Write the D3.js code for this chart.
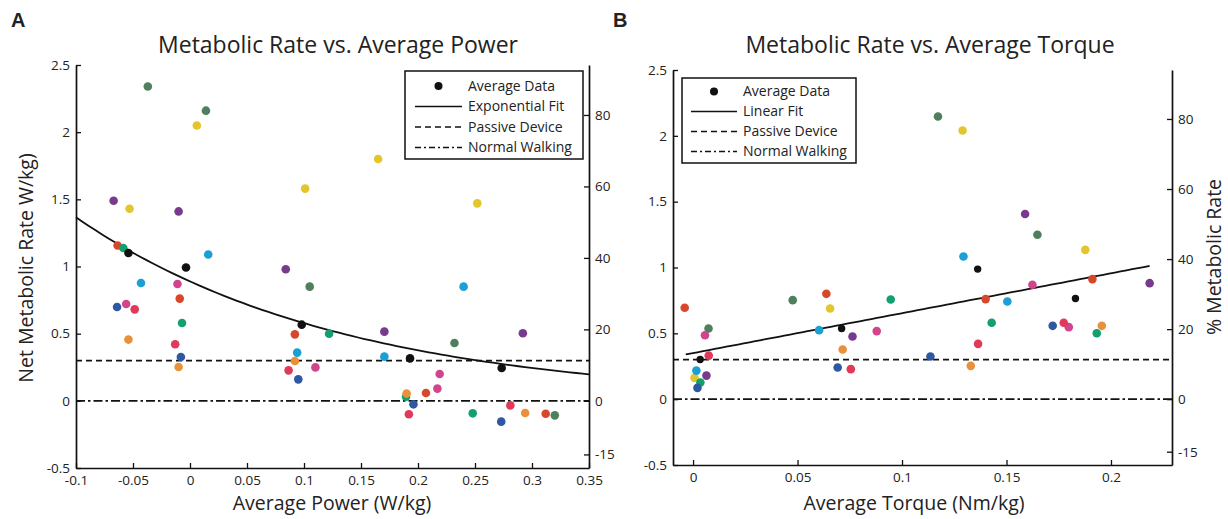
<!DOCTYPE html>
<html>
<head>
<meta charset="utf-8">
<title>Metabolic Rate</title>
<script src="https://d3js.org/d3.v7.min.js"></script>
<style>
body { margin: 0; background: #fff; }
svg text { font-family: "Open Sans", sans-serif; fill: #222; }
</style>
</head>
<body>
<svg id="chart" width="1228" height="519"></svg>
<script>
// subject order used by both panels
var subjects = ["darkgreen", "yellow", "purple", "red", "teal", "cyan", "blue", "magenta", "crimson", "orange", "average"];
var subjectColor = {
  darkgreen: "#4f7f5c", yellow: "#e3c62e", purple: "#783a8c", red: "#d8462c",
  teal: "#11a06e", cyan: "#1aa0d4", blue: "#2f58a2", magenta: "#d2458d",
  crimson: "#e0395a", orange: "#e8913a", average: "#111111"
};

// panel A: average power (W/kg) vs net metabolic rate (W/kg)
var powerData = {
  darkgreen: [[-0.037, 2.34], [0.014, 2.16], [0.105, 0.85], [0.232, 0.43], [0.320, -0.108]],
  yellow:    [[0.006, 2.05], [0.101, 1.58], [0.165, 1.80], [0.252, 1.47], [-0.053, 1.43]],
  purple:    [[-0.067, 1.49], [-0.010, 1.41], [0.084, 0.98], [0.1705, 0.515], [0.292, 0.503]],
  red:       [[-0.0635, 1.156], [-0.009, 0.761], [0.092, 0.495], [0.207, 0.058], [0.312, -0.096]],
  teal:      [[-0.0585, 1.138], [-0.007, 0.579], [0.122, 0.500], [0.1895, 0.031], [0.248, -0.093]],
  cyan:      [[0.016, 1.089], [-0.043, 0.877], [0.094, 0.359], [0.240, 0.850], [0.1705, 0.329]],
  blue:      [[-0.064, 0.699], [-0.008, 0.326], [0.095, 0.160], [0.196, -0.026], [0.273, -0.155]],
  magenta:   [[-0.056, 0.721], [-0.011, 0.870], [0.110, 0.249], [0.219, 0.200], [0.217, 0.091]],
  crimson:   [[-0.0485, 0.681], [-0.013, 0.421], [0.0865, 0.227], [0.192, -0.100], [0.281, -0.034]],
  orange:    [[-0.054, 0.456], [-0.010, 0.252], [0.092, 0.296], [0.190, 0.054], [0.294, -0.091]],
  average:   [[-0.054, 1.10], [-0.0035, 0.992], [0.098, 0.567], [0.193, 0.316], [0.2734, 0.244]]
};

// panel B: average torque (Nm/kg) vs net metabolic rate (W/kg)
var torqueData = {
  darkgreen: [[0.0074, 0.537], [0.0477, 0.752], [0.1172, 2.147], [0.1648, 1.249]],
  yellow:    [[0.0007, 0.162], [0.0656, 0.689], [0.129, 2.041], [0.1877, 1.134]],
  purple:    [[0.0064, 0.179], [0.0763, 0.476], [0.1589, 1.406], [0.2185, 0.881]],
  red:       [[-0.004, 0.694], [0.0638, 0.800], [0.140, 0.760], [0.1911, 0.912]],
  cyan:      [[0.0016, 0.217], [0.0603, 0.524], [0.1294, 1.084], [0.1504, 0.742]],
  blue:      [[0.0021, 0.086], [0.0692, 0.240], [0.1136, 0.324], [0.1721, 0.557]],
  teal:      [[0.0035, 0.126], [0.0946, 0.757], [0.1429, 0.580], [0.1932, 0.501]],
  magenta:   [[0.0057, 0.486], [0.0879, 0.517], [0.1624, 0.869], [0.1798, 0.547]],
  crimson:   [[0.0075, 0.331], [0.0755, 0.228], [0.1364, 0.420], [0.1774, 0.580]],
  orange:    [[0.0716, 0.377], [0.1329, 0.253], [0.1956, 0.557]],
  average:   [[0.0034, 0.301], [0.0711, 0.537], [0.1362, 0.988], [0.183, 0.765]]
};

var yTicks = [-0.5, 0, 0.5, 1, 1.5, 2, 2.5];
var pctTicks = [-15, 0, 20, 40, 60, 80];
var powerTicks = [-0.1, -0.05, 0, 0.05, 0.1, 0.15, 0.2, 0.25, 0.3, 0.35];
var torqueTicks = [0, 0.05, 0.1, 0.15, 0.2];

var passiveLevel = 0.3;   // passive device
var walkingLevel = 0;     // normal walking
var baseRate = 2.66;      // W/kg that equals 100 %
var expFit = { a: 0.889, b: -4.30, from: -0.1, to: 0.35 };
var linFit = { a: 0.35, b: 3.03, from: -0.0035, to: 0.2185 };

var svg = d3.select("#chart");

function drawPanel(o) {
  var x = d3.scaleLinear().domain(o.xDomain).range([o.left, o.right]);
  var y = d3.scaleLinear().domain([-0.5, 2.5]).range([o.bottom, o.top]);
  var yPct = d3.scaleLinear().domain([-0.5 / baseRate * 100, 2.5 / baseRate * 100]).range([o.bottom, o.top]);
  var g = svg.append("g");

  // reference lines
  g.append("line").attr("x1", o.left).attr("x2", o.right)
    .attr("y1", y(passiveLevel)).attr("y2", y(passiveLevel))
    .attr("stroke", "#111").attr("stroke-width", 1.7).attr("stroke-dasharray", "6,4");
  g.append("line").attr("x1", o.left).attr("x2", o.right)
    .attr("y1", y(walkingLevel)).attr("y2", y(walkingLevel))
    .attr("stroke", "#111").attr("stroke-width", 1.7).attr("stroke-dasharray", "9,3,2.5,3");

  // fit line
  var xs = d3.range(o.fit.from, o.fit.to + 1e-9, (o.fit.to - o.fit.from) / 80);
  var line = d3.line().x(function(d) { return x(d); }).y(function(d) { return y(o.fitFn(d)); });
  g.append("path").datum(xs).attr("d", line)
    .attr("fill", "none").attr("stroke", "#111").attr("stroke-width", 1.8);

  // points
  subjects.forEach(function(s) {
    g.selectAll(null).data(o.data[s]).enter().append("circle")
      .attr("cx", function(d) { return x(d[0]); })
      .attr("cy", function(d) { return y(d[1]); })
      .attr("r", s === "average" ? o.avgR : 4.3)
      .attr("fill", subjectColor[s]);
  });

  // axes
  var fmt = function(d) { return String(d); };
  var ax = g.append("g").attr("transform", "translate(" + o.left + ",0)")
    .call(d3.axisLeft(y).tickValues(yTicks).tickFormat(fmt).tickSize(-5).tickSizeOuter(0).tickPadding(6));
  var bx = g.append("g").attr("transform", "translate(0," + o.bottom + ")")
    .call(d3.axisBottom(x).tickValues(o.xTicks).tickFormat(fmt).tickSize(-5).tickSizeOuter(0).tickPadding(7));
  var rx = g.append("g").attr("transform", "translate(" + o.right + ",0)")
    .call(d3.axisRight(yPct).tickValues(pctTicks).tickFormat(fmt).tickSize(-5).tickSizeOuter(0).tickPadding(6));
  [ax, bx, rx].forEach(function(a) {
    a.select(".domain").attr("stroke", "#111").attr("stroke-width", 1.7);
    a.selectAll(".tick line").attr("stroke", "#111").attr("stroke-width", 1.3);
    a.selectAll(".tick text").attr("font-size", 13.5).attr("fill", "#333")
      .style("font-family", "'Open Sans', sans-serif");
  });

  // titles
  svg.append("text").attr("x", o.letterX).attr("y", 27).attr("font-size", 20)
    .attr("font-weight", "bold").style("font-family", "Arial, 'Liberation Sans', sans-serif").text(o.letter);
  svg.append("text").attr("x", o.titleX).attr("y", 53).attr("text-anchor", "middle")
    .attr("font-size", 23).text(o.title);
  svg.append("text").attr("x", o.xLabelX).attr("y", 510).attr("text-anchor", "middle")
    .attr("font-size", 19.5).text(o.xLabel);

  // legend
  var L = o.legend;
  var lg = svg.append("g");
  lg.append("rect").attr("x", L.x).attr("y", L.y).attr("width", L.w).attr("height", L.h)
    .attr("fill", "#fff").attr("stroke", "#111").attr("stroke-width", 1.5);
  var items = [
    { t: "Average Data", k: "dot" },
    { t: o.fitName, k: "solid" },
    { t: "Passive Device", k: "6,4" },
    { t: "Normal Walking", k: "6,3,2,3" }
  ];
  items.forEach(function(it, i) {
    var cy = L.y + L.row0 + i * L.step;
    if (it.k === "dot") {
      lg.append("circle").attr("cx", (L.lx1 + L.lx2) / 2).attr("cy", cy).attr("r", 4).attr("fill", "#111");
    } else {
      lg.append("line").attr("x1", L.lx1).attr("x2", L.lx2).attr("y1", cy).attr("y2", cy)
        .attr("stroke", "#111").attr("stroke-width", 1.5)
        .attr("stroke-dasharray", it.k === "solid" ? null : it.k);
    }
    lg.append("text").attr("x", L.tx).attr("y", cy).attr("dy", "0.35em")
      .attr("font-size", 14).text(it.t);
  });
}

drawPanel({
  data: powerData, xDomain: [-0.1, 0.35], xTicks: powerTicks,
  left: 76, right: 589, top: 65, bottom: 468, avgR: 4.3,
  fit: expFit, fitFn: function(v) { return expFit.a * Math.exp(expFit.b * v); },
  fitName: "Exponential Fit",
  letter: "A", letterX: 11, title: "Metabolic Rate vs. Average Power", titleX: 338,
  xLabel: "Average Power (W/kg)", xLabelX: 332,
  legend: { x: 405, y: 71, w: 178, h: 88, row0: 15, step: 20.5, lx1: 415, lx2: 462, tx: 468 }
});

drawPanel({
  data: torqueData, xDomain: [-0.0096, 0.2292], xTicks: torqueTicks,
  left: 673, right: 1172, top: 70, bottom: 465, avgR: 3.7,
  fit: linFit, fitFn: function(v) { return linFit.a + linFit.b * v; },
  fitName: "Linear Fit",
  letter: "B", letterX: 613, title: "Metabolic Rate vs. Average Torque", titleX: 930,
  xLabel: "Average Torque (Nm/kg)", xLabelX: 914,
  legend: { x: 682, y: 78, w: 174, h: 85, row0: 13.5, step: 20, lx1: 691, lx2: 737, tx: 743 }
});

// axis titles on the sides
svg.append("text").attr("transform", "translate(33,268) rotate(-90)")
  .attr("text-anchor", "middle").attr("font-size", 19.5).text("Net Metabolic Rate W/kg)");
svg.append("text").attr("transform", "translate(1221,257) rotate(-90)")
  .attr("text-anchor", "middle").attr("font-size", 19.5).text("% Metabolic Rate");
</script>
</body>
</html>
